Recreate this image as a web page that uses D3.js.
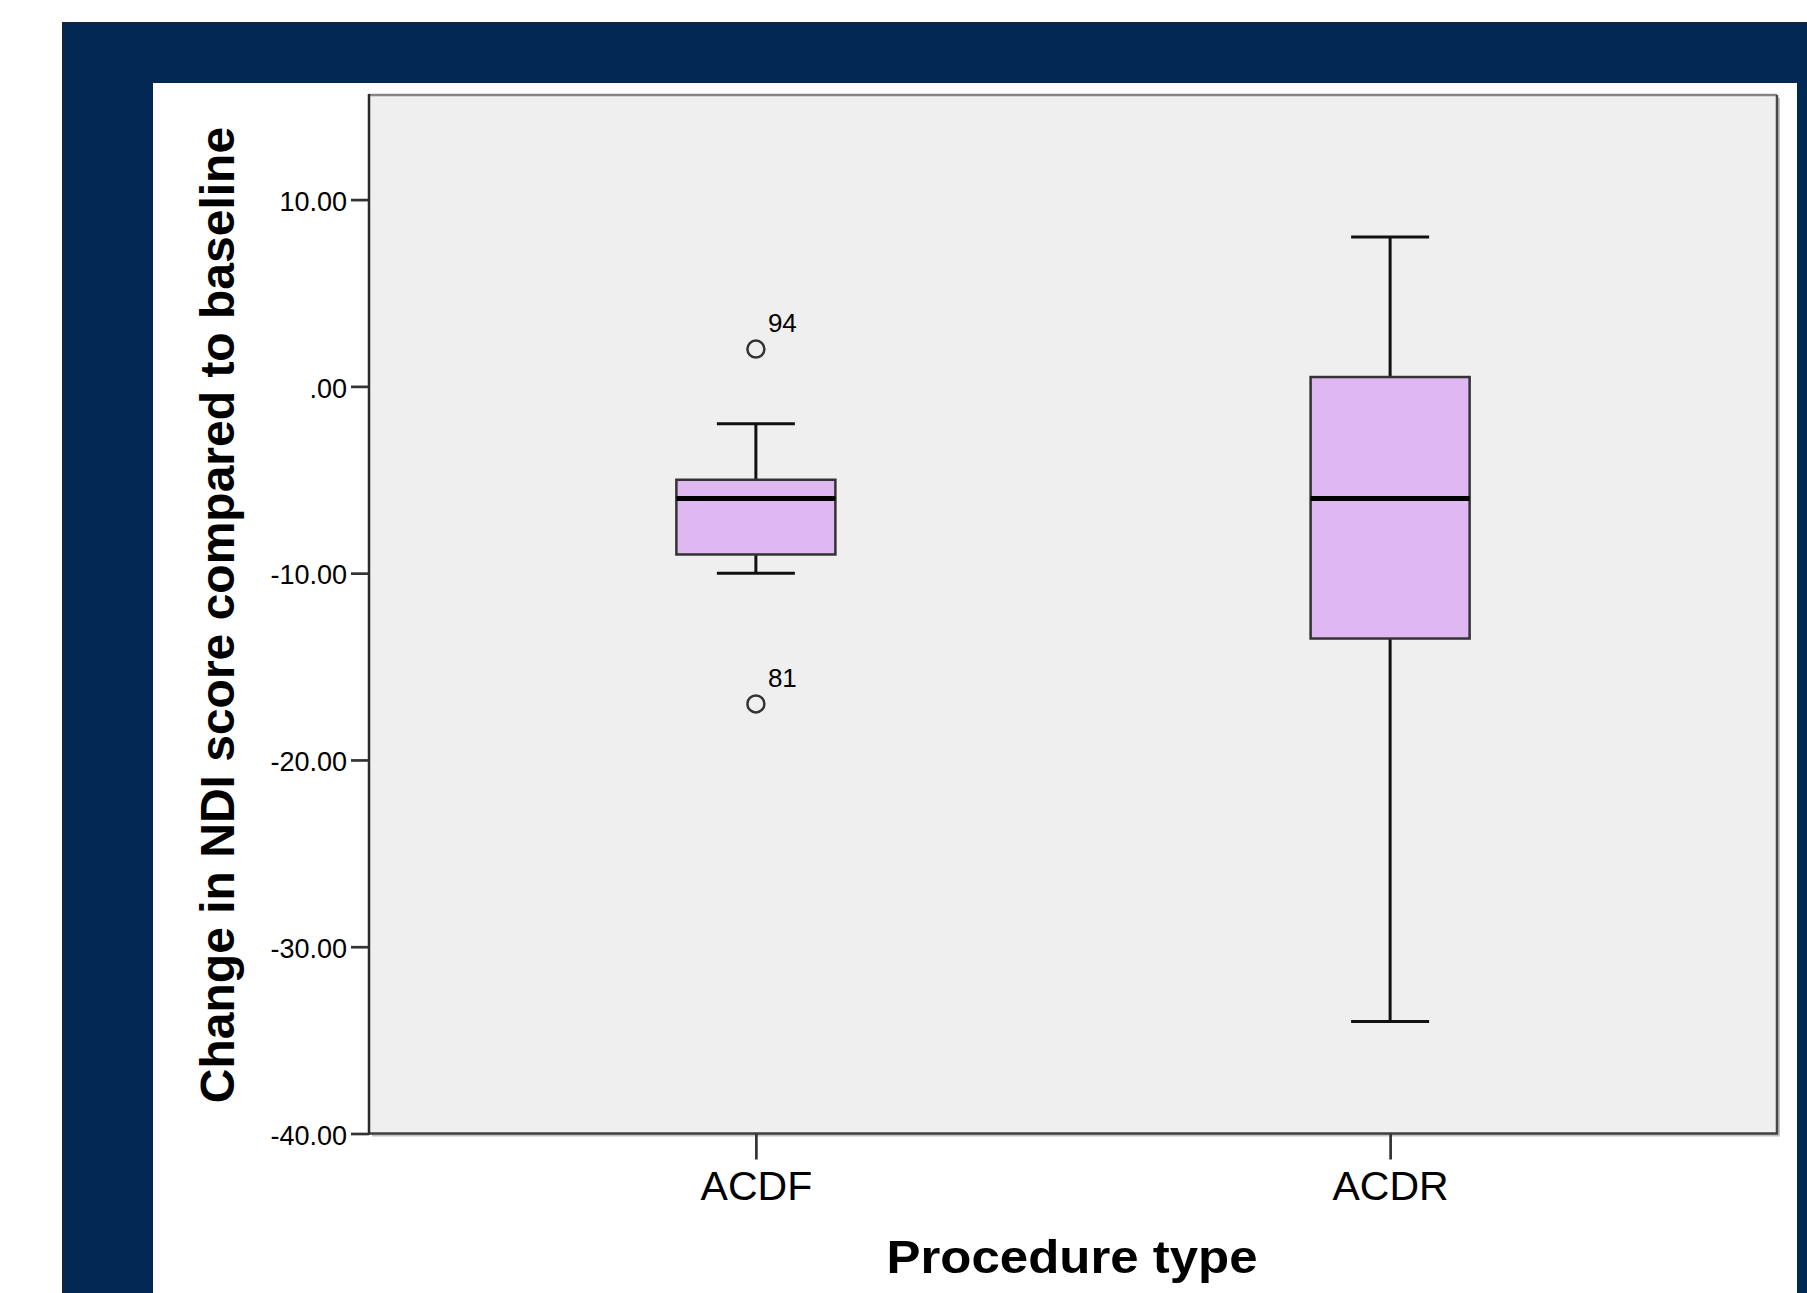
<!DOCTYPE html>
<html>
<head>
<meta charset="utf-8">
<script src="https://cdn.jsdelivr.net/npm/d3@7"></script>
<style>
  body { margin: 0; background: #fff; }
  text { font-family: "Liberation Sans", Arial, sans-serif; fill: #000; }
</style>
</head>
<body>
<div id="chart"></div>
<script>
// box plot summary
var categories = ["ACDF", "ACDR"];
var whiskerLow = [-10, -34];
var q1 = [-9, -13.5];
var median = [-6, -6];
var q3 = [-5, 0.5];
var whiskerHigh = [-2, 8];

// outliers (case numbers shown as labels)
var outlierGroup = ["ACDF", "ACDF"];
var outlierValue = [2, -17];
var outlierCase = ["94", "81"];

var yTicks = [10, 0, -10, -20, -30, -40];

var svgWidth = 1807;
var svgHeight = 1293;

var plot = { left: 369, right: 1777, top: 95, bottom: 1133.5 };

var svg = d3.select("#chart")
  .append("svg")
  .attr("width", svgWidth)
  .attr("height", svgHeight);

// navy frame + white panel
svg.append("rect")
  .attr("x", 62.5).attr("y", 22.5)
  .attr("width", svgWidth).attr("height", svgHeight)
  .attr("fill", "#012852")
  .attr("stroke", "#222").attr("stroke-width", 1);

svg.append("rect")
  .attr("x", 153).attr("y", 83)
  .attr("width", 1797 - 153).attr("height", svgHeight - 83)
  .attr("fill", "#fff");

// scales
var yScale = d3.scaleLinear()
  .domain([-40, 15.6])
  .range([plot.bottom, plot.top]);

var xScale = d3.scalePoint()
  .domain(categories)
  .range([plot.left, plot.right])
  .padding(0.61);

var boxWidth = 159;
var capWidth = 78;

// plot background with shadow
svg.append("rect")
  .attr("x", plot.left + 3).attr("y", plot.top + 3)
  .attr("width", plot.right - plot.left).attr("height", plot.bottom - plot.top)
  .attr("fill", "#c4c4c4");

svg.append("rect")
  .attr("x", plot.left).attr("y", plot.top)
  .attr("width", plot.right - plot.left).attr("height", plot.bottom - plot.top)
  .attr("fill", "#efefef");

// frame lines
svg.append("line")
  .attr("x1", plot.left).attr("x2", plot.right)
  .attr("y1", plot.top).attr("y2", plot.top)
  .attr("stroke", "#858585").attr("stroke-width", 2.5);
svg.append("line")
  .attr("x1", plot.right).attr("x2", plot.right)
  .attr("y1", plot.top).attr("y2", plot.bottom)
  .attr("stroke", "#484848").attr("stroke-width", 2.5);
svg.append("line")
  .attr("x1", plot.left).attr("x2", plot.right + 1)
  .attr("y1", plot.bottom).attr("y2", plot.bottom)
  .attr("stroke", "#404040").attr("stroke-width", 2.5);
svg.append("line")
  .attr("x1", plot.left).attr("x2", plot.left)
  .attr("y1", plot.top - 1).attr("y2", plot.bottom + 1)
  .attr("stroke", "#2a2a2a").attr("stroke-width", 2.5);

// axes
var fmt = function(d) {
  var s = d3.format(".2f")(d).replace("\u2212", "-");
  return s.replace(/^0\./, ".");
};

var yAxis = d3.axisLeft(yScale)
  .tickValues(yTicks)
  .tickFormat(fmt)
  .tickSize(18)
  .tickPadding(4);

var yg = svg.append("g")
  .attr("transform", "translate(" + plot.left + ",0)")
  .call(yAxis);
yg.select(".domain").remove();
yg.selectAll(".tick line").attr("stroke", "#333").attr("stroke-width", 2.7);
yg.selectAll(".tick text")
  .attr("font-size", 27)
  .attr("font-family", "Liberation Sans, Arial, sans-serif")
  .attr("fill", "#111")
  .attr("dy", "0.4em");

var xAxis = d3.axisBottom(xScale)
  .tickSize(26)
  .tickPadding(11);

var xg = svg.append("g")
  .attr("transform", "translate(0," + plot.bottom + ")")
  .call(xAxis);
xg.select(".domain").remove();
xg.selectAll(".tick line").attr("stroke", "#333").attr("stroke-width", 2.7);
xg.selectAll(".tick text")
  .attr("font-size", 41)
  .attr("font-family", "Liberation Sans, Arial, sans-serif")
  .attr("fill", "#111");

// boxes
var boxes = svg.append("g").selectAll("g.box")
  .data(categories)
  .enter().append("g")
  .attr("class", "box");

// whisker stems
boxes.append("line")
  .attr("x1", d => xScale(d)).attr("x2", d => xScale(d))
  .attr("y1", (d, i) => yScale(whiskerHigh[i]))
  .attr("y2", (d, i) => yScale(q3[i]))
  .attr("stroke", "#111").attr("stroke-width", 3);
boxes.append("line")
  .attr("x1", d => xScale(d)).attr("x2", d => xScale(d))
  .attr("y1", (d, i) => yScale(q1[i]))
  .attr("y2", (d, i) => yScale(whiskerLow[i]))
  .attr("stroke", "#111").attr("stroke-width", 3);

// caps
boxes.append("line")
  .attr("x1", d => xScale(d) - capWidth / 2).attr("x2", d => xScale(d) + capWidth / 2)
  .attr("y1", (d, i) => yScale(whiskerHigh[i]))
  .attr("y2", (d, i) => yScale(whiskerHigh[i]))
  .attr("stroke", "#111").attr("stroke-width", 3);
boxes.append("line")
  .attr("x1", d => xScale(d) - capWidth / 2).attr("x2", d => xScale(d) + capWidth / 2)
  .attr("y1", (d, i) => yScale(whiskerLow[i]))
  .attr("y2", (d, i) => yScale(whiskerLow[i]))
  .attr("stroke", "#111").attr("stroke-width", 3);

// box
boxes.append("rect")
  .attr("x", d => xScale(d) - boxWidth / 2)
  .attr("y", (d, i) => yScale(q3[i]))
  .attr("width", boxWidth)
  .attr("height", (d, i) => yScale(q1[i]) - yScale(q3[i]))
  .attr("fill", "#dfb8f2")
  .attr("stroke", "#333").attr("stroke-width", 2.5);

// median
boxes.append("line")
  .attr("x1", d => xScale(d) - boxWidth / 2).attr("x2", d => xScale(d) + boxWidth / 2)
  .attr("y1", (d, i) => yScale(median[i]))
  .attr("y2", (d, i) => yScale(median[i]))
  .attr("stroke", "#000").attr("stroke-width", 5);

// outliers
var outl = svg.append("g").selectAll("g.outlier")
  .data(outlierValue)
  .enter().append("g")
  .attr("class", "outlier");

outl.append("circle")
  .attr("cx", (d, i) => xScale(outlierGroup[i]))
  .attr("cy", d => yScale(d))
  .attr("r", 8.5)
  .attr("fill", "none")
  .attr("stroke", "#333").attr("stroke-width", 2.5);

outl.append("text")
  .attr("x", (d, i) => xScale(outlierGroup[i]) + 12)
  .attr("y", d => yScale(d) - 17)
  .attr("font-size", 26)
  .attr("fill", "#111")
  .text((d, i) => outlierCase[i]);

// axis titles
svg.append("text")
  .attr("x", 1072).attr("y", 1273)
  .attr("text-anchor", "middle")
  .attr("font-size", 46)
  .attr("font-weight", "bold")
  .attr("textLength", 371)
  .attr("lengthAdjust", "spacingAndGlyphs")
  .text("Procedure type");

svg.append("text")
  .attr("transform", "translate(234,615) rotate(-90)")
  .attr("text-anchor", "middle")
  .attr("font-size", 48)
  .attr("font-weight", "bold")
  .text("Change in NDI score compared to baseline");
</script>
</body>
</html>
